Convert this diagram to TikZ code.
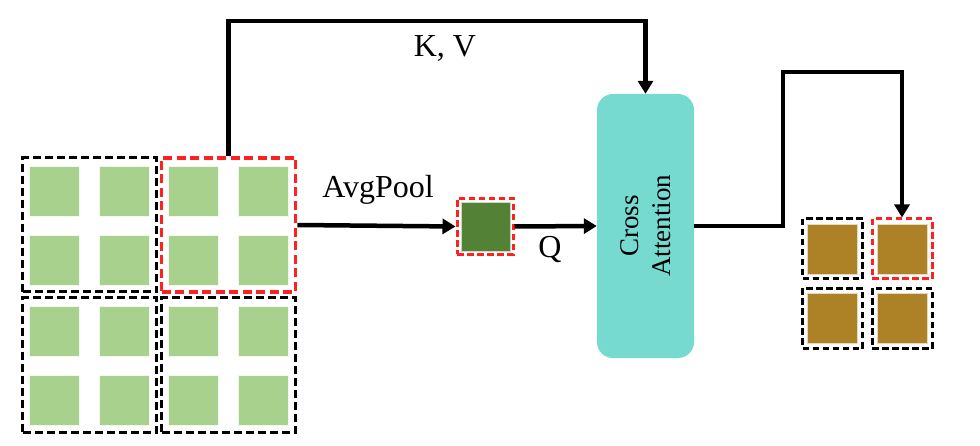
\documentclass[tikz,border=0pt]{standalone}
\usepackage{fontspec}
\setmainfont{Liberation Serif}
\usetikzlibrary{arrows.meta}
\definecolor{lgreen}{HTML}{A7D18D}
\definecolor{dgreen}{HTML}{538135}
\definecolor{brownsq}{HTML}{AD8227}
\definecolor{teal}{HTML}{77DAD1}
\definecolor{redd}{HTML}{FF2020}
\tikzset{
  patch/.style={draw=black, line width=3pt, dash pattern=on 8pt off 4pt, inner sep=0pt, minimum size=134pt},
  redpatch/.style={patch, draw=redd, line width=3.6pt, dash pattern=on 9pt off 4.5pt},
  smallpatch/.style={draw=black, line width=3pt, dash pattern=on 6.5pt off 3.5pt, inner sep=0pt, minimum size=60pt},
  lsq/.style={fill=lgreen, draw=white!85!lgreen, line width=0.6pt, inner sep=0pt, minimum size=50pt},
  bsq/.style={fill=brownsq, draw=white!70!brownsq, line width=0.6pt, inner sep=0pt, minimum size=50pt},
  arr/.style={line width=4.5pt, -{Triangle[length=13pt,width=15pt]}},
  lbl/.style={font=\fontsize{32}{38}\selectfont, inner sep=0pt},
}
\begin{document}
\begin{tikzpicture}[x=1pt,y=-1pt]
\useasboundingbox (0,0) rectangle (980,446);
% left grid
\foreach \cx/\cy/\nm in {89.7/225/p11, 228.5/225/p12, 89.7/365/p21, 228.5/365/p22}{
  \foreach \dx in {-35,35}{
    \foreach \dy in {-34,35}{
      \node[lsq] at (\cx+\dx,\cy+\dy) {};
    }
  }
}
\node[patch] (p11) at (89.7,225) {};
\node[patch] (p21) at (89.7,365) {};
\node[patch] (p22) at (228.5,365) {};
\node[redpatch] (p12) at (228.5,225) {};
% pooled token
\node[fill=dgreen, draw=white!70!dgreen, line width=0.6pt, inner sep=0pt, minimum size=49pt] (pq) at (486,226.5) {};
\node[draw=redd, line width=3pt, dash pattern=on 6.5pt off 3.5pt, inner sep=0pt, minimum size=56pt] (pool) at (485,226.5) {};
% cross attention
\node[fill=teal, rounded corners=16pt, minimum width=97pt, minimum height=264pt, inner sep=0pt] (ca) at (645.5,226) {};
\node[lbl, font=\fontsize{27}{32}\selectfont, rotate=90, align=center] (catext) at (ca.center) {Cross\\Attention};
% output grid
\foreach \cx/\cy in {832.7/249, 902/249, 832.7/318.5, 902/318.5}{
  \node[bsq] at (\cx,\cy) {};
}
\node[smallpatch] (r11) at (832.7,249) {};
\node[smallpatch] (r21) at (832.7,318.5) {};
\node[smallpatch] (r22) at (902,318.5) {};
\node[smallpatch, draw=redd] (r12) at (902,249) {};
% connectors
\coordinate (kv) at (437,21);
\draw[arr] (p12.north) |- (kv) -| (ca.north);
\node[lbl] (kvl) at (445,48) {K, V};
\draw[arr] (p12.east) -- (pool.west);
\node[lbl] (avg) at (378,190) {AvgPool};
\draw[arr] (pool.east) -- (ca.west);
\node[lbl] (ql) at (550,250) {Q};
\coordinate (o1) at (783,72);
\draw[arr] (ca.east) -| (o1) -| (r12.north);
\end{tikzpicture}
\end{document}
